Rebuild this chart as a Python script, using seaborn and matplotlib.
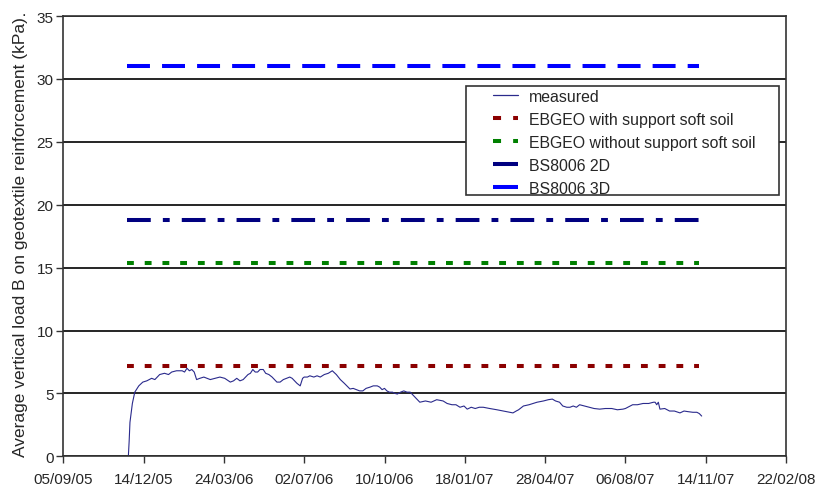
import pandas as pd
import numpy as np
import matplotlib
matplotlib.use('Agg')
import matplotlib.pyplot as plt
import matplotlib.dates as mdates
from matplotlib.lines import Line2D
from matplotlib.patches import Rectangle
import seaborn as sns

# axis origin and days
origin = pd.Timestamp('2005-09-05')
measured_day = [81, 82, 83, 86, 89, 94, 99, 104, 110, 114, 120, 126, 131, 135, 141, 148, 151, 154,
                157, 160, 163, 166, 170, 175, 179, 183, 189, 195, 201, 208, 212, 216, 220, 224,
                227, 230, 233, 236, 239, 242, 245, 249, 252, 256, 260, 266, 270, 274, 278, 282,
                285, 288, 291, 295, 298, 300, 304, 307, 312, 316, 320, 325, 330, 335, 340, 345,
                350, 357, 361, 365, 369, 373, 377, 382, 386, 391, 394, 397, 400, 403, 406, 410,
                413, 416, 420, 424, 428, 432, 435, 438, 441, 444, 451, 458, 465, 473, 478, 484,
                489, 494, 499, 503, 508, 513, 518, 523, 531, 540, 548, 556, 560, 564, 567, 573,
                580, 590, 598, 604, 609, 613, 618, 622, 627, 631, 635, 639, 643, 649, 655, 661,
                668, 675, 683, 690, 697, 700, 703, 706, 709, 715, 722, 729, 735, 737, 739, 741,
                743, 749, 755, 761, 768, 773, 778, 784, 789, 792, 795]
measured_val = [0.0, 1.2, 2.7, 4.2, 5.1, 5.6, 5.9, 6.0, 6.2, 6.1, 6.5, 6.6, 6.5, 6.7, 6.8, 6.8, 6.7, 7.0,
                6.8, 6.9, 6.7, 6.1, 6.2, 6.3, 6.2, 6.1, 6.2, 6.3, 6.2, 5.9, 6.0, 6.2, 6.0, 6.1,
                6.3, 6.5, 6.6, 6.9, 6.7, 6.7, 6.9, 6.9, 6.6, 6.5, 6.3, 5.9, 5.9, 6.1, 6.2, 6.3,
                6.2, 6.0, 5.8, 5.6, 6.2, 6.3, 6.3, 6.4, 6.3, 6.4, 6.3, 6.5, 6.6, 6.8, 6.5, 6.1,
                5.8, 5.35, 5.4, 5.3, 5.2, 5.2, 5.4, 5.5, 5.6, 5.6, 5.5, 5.3, 5.4, 5.2, 5.1, 5.1,
                5.0, 4.95, 5.1, 5.2, 5.1, 5.1, 4.9, 4.7, 4.5, 4.3, 4.4, 4.3, 4.5, 4.4, 4.2, 4.1,
                4.1, 3.9, 4.0, 3.75, 3.9, 3.8, 3.9, 3.9, 3.8, 3.7, 3.6, 3.5, 3.45, 3.6, 3.7, 4.0,
                4.1, 4.3, 4.4, 4.5, 4.55, 4.4, 4.3, 4.0, 3.9, 3.9, 4.0, 3.9, 4.1, 4.0, 3.9, 3.8,
                3.75, 3.8, 3.8, 3.7, 3.75, 3.8, 3.9, 4.0, 4.1, 4.1, 4.2, 4.2, 4.3, 4.3, 4.1, 4.3,
                3.75, 3.8, 3.6, 3.6, 3.45, 3.6, 3.55, 3.5, 3.5, 3.4, 3.2]

ref_names = ['EBGEO with support soft soil', 'EBGEO without support soft soil', 'BS8006 2D', 'BS8006 3D']
ref_values = [7.15, 15.4, 18.8, 31.0]
ref_colors = ['#8b0000', '#008000', '#000080', '#0000ff']
ref_dashes = [(1.7, 2.7), (1.7, 2.7), (5.9, 3.0, 1.7, 3.0), (5.7, 3.0)]
ref_start_day = 79
ref_end_day = 792

tick_dates = pd.date_range('2005-09-05', periods=10, freq='100D')

sns.set_style('white')
plt.rcParams['font.family'] = ['Liberation Sans', 'DejaVu Sans']

fig = plt.figure(figsize=(8.19, 4.89), dpi=100)
ax = fig.add_axes([0.0773, 0.0648, 0.8824, 0.9004])

meas = pd.DataFrame({'date': origin + pd.to_timedelta(measured_day, unit='D'), 'load': measured_val})
sns.lineplot(data=meas, x='date', y='load', color='#2a2a8c', linewidth=0.8, ax=ax)

for name, v, c, d in zip(ref_names, ref_values, ref_colors, ref_dashes):
    ref = pd.DataFrame({'date': [origin + pd.Timedelta(days=ref_start_day), origin + pd.Timedelta(days=ref_end_day)],
                        'load': [v, v]})
    sns.lineplot(data=ref, x='date', y='load', color=c, linewidth=2.9, ax=ax,
                 dashes=False, linestyle=(0, d))
    ax.lines[-1].set_solid_capstyle('butt')
    ax.lines[-1].set_dash_capstyle('butt')

ax.set_xlim(tick_dates[0], tick_dates[-1])
ax.set_ylim(0, 35)
ax.set_yticks(np.arange(0, 36, 5))
ax.set_xticks(tick_dates)
ax.xaxis.set_major_formatter(mdates.DateFormatter('%d/%m/%y'))
ax.yaxis.grid(True, color='black', linewidth=1.2)
ax.set_axisbelow(True)
for s in ax.spines.values():
    s.set_color('#333333')
    s.set_linewidth(1.2)
ax.tick_params(axis='both', which='major', direction='out', length=5, width=1.0,
               color='#333333', labelsize=11, bottom=True, left=True)
ax.tick_params(axis='x', pad=6)
ax.tick_params(axis='y', pad=2)
ax.set_xlabel('')
ax.set_ylabel('Average vertical load B on geotextile reinforcement (kPa)', fontsize=12.5, labelpad=6)
fig.text(0.029, 0.962, '.', fontsize=12, ha='center', va='bottom')

# legend: box drawn separately, entries placed inside it
fig.patches.append(Rectangle((466 / 819, 1 - 196 / 489), 313 / 819, 109 / 489, transform=fig.transFigure,
                             facecolor='white', edgecolor='#333333', linewidth=1.2, zorder=5))
handles = [Line2D([], [], color='#2a2a8c', linewidth=0.9),
           Line2D([], [], color=ref_colors[0], linewidth=2.9, linestyle=(0, (2.0, 3.0)), dash_capstyle='butt'),
           Line2D([], [], color=ref_colors[1], linewidth=2.9, linestyle=(0, (2.0, 3.0)), dash_capstyle='butt'),
           Line2D([], [], color=ref_colors[2], linewidth=2.9, solid_capstyle='butt'),
           Line2D([], [], color=ref_colors[3], linewidth=2.9, solid_capstyle='butt')]
labels = ['measured'] + ref_names
leg = fig.legend(handles, labels, loc='upper left', bbox_to_anchor=(493 / 819, 1 - 90 / 489),
                 bbox_transform=fig.transFigure, fontsize=11.4, frameon=False,
                 handlelength=1.55, handletextpad=0.72, borderpad=0, labelspacing=0.5,
                 borderaxespad=0)
leg.set_zorder(6)

fig.savefig('out.png', dpi=100)
